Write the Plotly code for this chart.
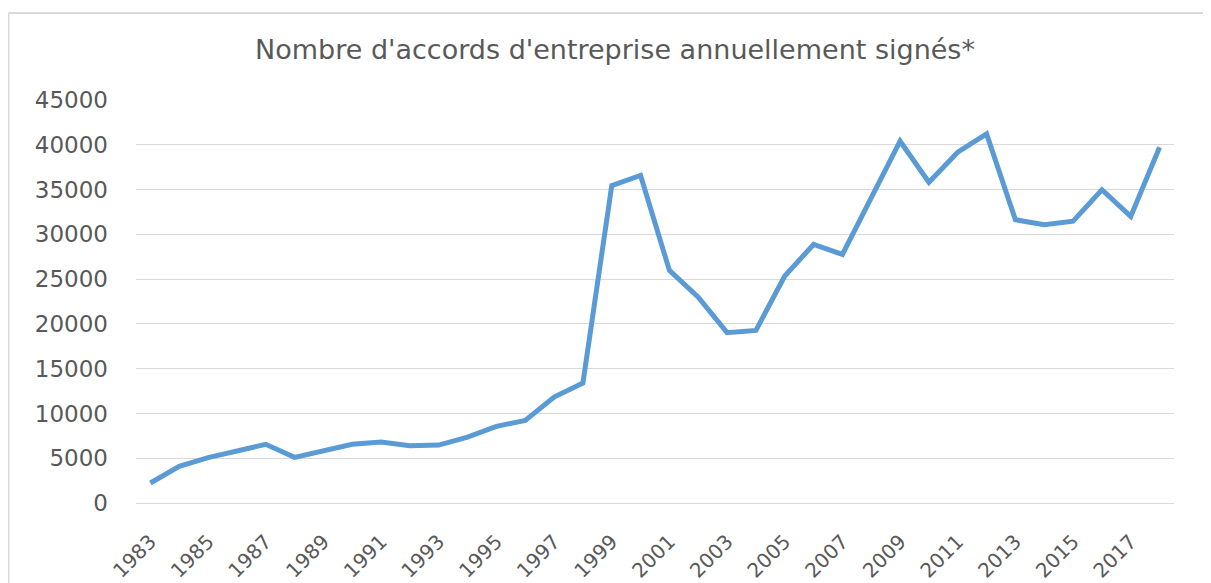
import plotly.graph_objects as go

years = list(range(1983, 2019))
accords = [2230, 4100, 5070, 5800, 6550, 5100, 5880, 6550, 6800, 6400,
           6470, 7350, 8560, 9230, 11830, 13390, 35450, 36570, 25970, 22990,
           19020, 19270, 25350, 28870, 27750, 34150, 40400, 35820, 39170, 41220,
           31630, 31070, 31470, 34980, 32000, 39730]
x_tick_years = list(range(1983, 2018, 2))
y_ticks = list(range(0, 45001, 5000))

title_text = "Nombre d'accords d'entreprise annuellement signés*"
text_color = "#595959"
font_family = "DejaVu Sans"

fig = go.Figure()
fig.add_trace(go.Scatter(
    x=years, y=accords, mode="lines",
    line=dict(color="#5B9BD5", width=5, shape="linear"),
    showlegend=False, hoverinfo="x+y",
))

# page body adds an 8px offset; compensate
OFF = 8
W, H = 1211, 583
L, R, T, B = 135.6 - OFF, 36.6 + OFF, 100 - OFF, 80.3 + OFF
pw = W - L - R
ph = H - T - B

def px_to_paper_x(px):
    return (px - OFF - L) / pw

def px_to_paper_y(py):
    return (H - B - (py - OFF)) / ph

fig.update_layout(
    width=W, height=H,
    margin=dict(l=L, r=R, t=T, b=B, pad=0, autoexpand=False),
    paper_bgcolor="white", plot_bgcolor="white",
    font=dict(family=font_family, color=text_color, size=20),
    title=dict(text=title_text, x=(615 - OFF) / W, xref="container", xanchor="center",
               y=1 - (50 - OFF) / H, yref="container", yanchor="middle",
               font=dict(size=27, color=text_color, family=font_family)),
    xaxis=dict(range=[1982.5, 2018.5], tickvals=x_tick_years,
               ticktext=[str(v) for v in x_tick_years], tickangle=-45,
               showgrid=False, zeroline=False, showline=False, ticks="",
               tickfont=dict(size=20, color=text_color),
               ticklabelstandoff=22, automargin=False),
    yaxis=dict(range=[0, 45000], tickvals=y_ticks,
               ticktext=[str(v) for v in y_ticks],
               showgrid=True, gridcolor="#D9D9D9", gridwidth=1.3,
               zeroline=True, zerolinecolor="#D9D9D9", zerolinewidth=1.3,
               showline=False, ticks="",
               tickfont=dict(size=23, color=text_color),
               ticklabelstandoff=27, automargin=False),
    shapes=[
        dict(type="line", xref="paper", yref="paper",
             x0=px_to_paper_x(8), x1=px_to_paper_x(1230),
             y0=px_to_paper_y(13), y1=px_to_paper_y(13),
             line=dict(color="#D9D9D9", width=2)),
        dict(type="line", xref="paper", yref="paper",
             x0=px_to_paper_x(8), x1=px_to_paper_x(8),
             y0=px_to_paper_y(13), y1=px_to_paper_y(600),
             line=dict(color="#D9D9D9", width=2)),
    ],
)

fig.write_html("out.html")
